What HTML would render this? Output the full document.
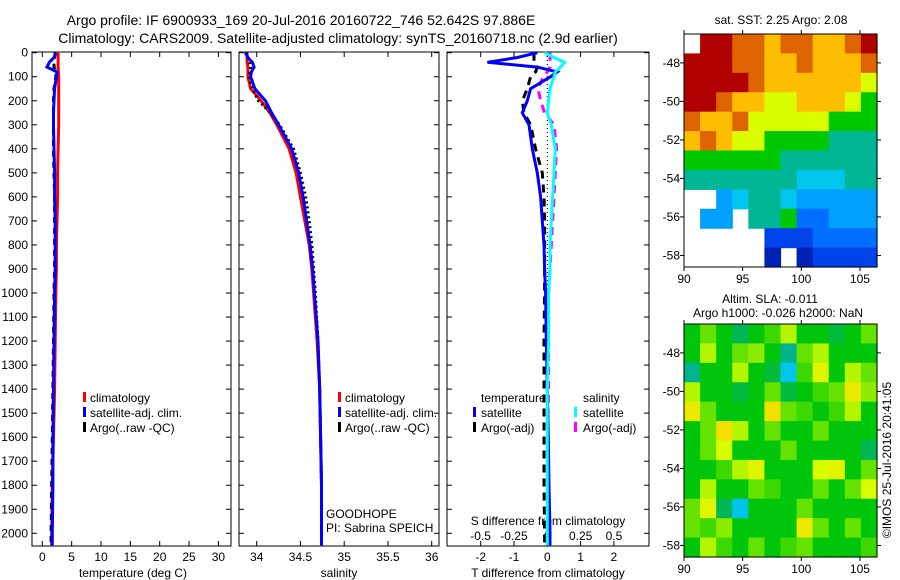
<!DOCTYPE html>
<html><head><meta charset="utf-8"><style>
body{margin:0;background:#fff}
svg{display:block;font-family:"Liberation Sans",sans-serif;font-size:12px}
</style></head><body>
<svg id="c" width="900" height="580" viewBox="0 0 900 580">
<rect width="900" height="580" fill="#fff"/>
<text x="301" y="25" text-anchor="middle" font-size="14">Argo profile: IF 6900933_169 20-Jul-2016 20160722_746 52.642S 97.886E</text>
<text x="338" y="43" text-anchor="middle" font-size="14">Climatology: CARS2009. Satellite-adjusted climatology: synTS_20160718.nc (2.9d earlier)</text>
<g id="g"></g>
</svg>
<script>
const depths=[0,20,40,60,80,100,150,200,250,300,400,500,600,700,800,900,1000,1200,1400,1600,1800,2000,2050];
const tClim=[2.7,2.7,2.7,2.7,2.75,2.8,2.8,2.8,2.8,2.8,2.7,2.6,2.6,2.5,2.4,2.4,2.3,2.2,2.1,1.9,1.7,1.6,1.6];
const tSat=[2.3,2.0,1.2,0.8,2.5,2.4,2.1,2.0,1.9,1.9,2.0,2.1,2.1,2.2,2.2,2.2,2.1,2.0,1.9,1.8,1.8,1.7,1.7];
const tArgo=[2.2,2.1,2.0,2.0,2.4,2.3,2.0,1.9,1.9,1.9,1.9,2.0,2.1,2.1,2.1,2.1,2.0,1.9,1.8,1.7,1.6,1.5,1.5];
const sClim=[33.89,33.89,33.89,33.9,33.9,33.9,33.93,34.05,34.15,34.23,34.37,34.45,34.5,34.55,34.6,34.63,34.65,34.69,34.72,34.73,34.74,34.74,34.74];
const sSat=[33.87,33.9,33.95,33.97,33.94,33.93,33.98,34.1,34.17,34.25,34.4,34.48,34.53,34.57,34.61,34.64,34.66,34.7,34.72,34.73,34.74,34.74,34.74];
const sArgo=[33.88,33.9,33.92,33.93,33.92,33.91,33.95,34.02,34.16,34.26,34.42,34.5,34.56,34.6,34.63,34.65,34.67,34.7,34.72,34.73,34.74,34.74,34.74];
const dTSat=[-0.3,-0.9,-1.8,-0.3,0.3,0.1,-0.5,-0.6,-0.75,-0.55,-0.45,-0.3,-0.2,-0.15,-0.1,-0.08,-0.05,-0.03,0.0,0.03,0.05,0.08,0.08];
const dTArgo=[-0.4,-0.4,-0.4,-0.3,-0.35,-0.5,-0.6,-0.75,-0.7,-0.5,-0.35,-0.15,-0.1,-0.08,-0.08,-0.08,-0.08,-0.1,-0.1,-0.1,-0.1,-0.08,-0.08];
const dSSat=[-0.02,0.05,0.13,0.1,0.06,0.05,0.02,0.01,0.0,0.03,0.06,0.05,0.04,0.03,0.02,0.02,0.01,0.01,0.0,0.0,0.0,0.0,0.0];
const dSArgo=[0.02,0.02,0.02,0.02,0.0,-0.03,-0.07,-0.05,-0.02,0.05,0.07,0.06,0.05,0.04,0.03,0.02,0.01,0.01,0.01,0.0,0.0,0.0,0.0];
const yTicks=[0,100,200,300,400,500,600,700,800,900,1000,1100,1200,1300,1400,1500,1600,1700,1800,1900,2000];
const tTicks=[0,5,10,15,20,25,30];
const sTicks=[34,34.5,35,35.5,36];
const dtTicks=[-2,-1,0,1,2];
const dsTicks=["-0.5","-0.25","0","0.25","0.5"];
const sstGrid=[
[null,9,9,8,8,7,8,8,7,7,8,9],
[9,9,9,8,8,7,7,8,7,7,7,8],
[9,9,9,9,8,7,7,7,7,7,7,6],
[9,9,8,7,7,6,6,7,7,7,6,5],
[8,7,7,8,6,6,6,6,6,5,5,5],
[7,8,7,6,6,5,5,5,5,4,4,4],
[5,5,5,5,5,5,4,4,4,4,4,4],
[4,4,4,4,4,4,4,3.5,3.5,3.5,4,4],
[null,null,3,3.5,4,4,3.5,3,3,3,3,3],
[null,3,3,null,4,4,5,2.5,2.5,3,3,3],
[null,null,null,null,null,2,2,2,2.5,2.5,2.5,2.5],
[null,null,null,null,null,1.5,null,1.5,2,2,2,2]];
const slaGrid=[
[0,0.3,0,-0.3,0,0.2,0.5,0,0,-0.2,0,0.3],
[0,0.5,0,0.3,0.4,0,-0.5,0.3,0.5,0,0,0],
[-0.5,0,0,0.5,0,-0.2,-0.8,0.2,0.7,0,0.5,0.3],
[0.5,0,0,-0.2,0,0.3,-0.2,0,0.2,0.3,0.8,0.4],
[0.8,0.3,0,0,0,0.9,0.3,0.2,0,0.2,0.5,0],
[0,0.3,0.9,0.5,0,0.3,0,0,0.3,0,0,0],
[0,0.3,0.6,0,0,0,0.3,0,0,0,0,-0.3],
[0,0,0.2,0.5,0.7,0,0,0,0.6,0.7,0,0.3],
[0,0.5,0,0,0.3,0.2,0,0,0.3,0,0.3,0.6],
[0.3,0.7,-0.3,-0.8,0,0,0,0.3,0,0,0,0],
[0.3,0.2,0.4,0,0,0,0,0.8,0.3,0,0.3,0],
[0,0.5,0.2,0,0.3,0,0.2,0.3,0,0,0,0.2]];
const lonTicks=[90,95,100,105];
const latTicks=[-48,-50,-52,-54,-56,-58];

const NS='http://www.w3.org/2000/svg';
const G=document.getElementById('g');
function mk(tag,at,parent){const e=document.createElementNS(NS,tag);for(const k in at)e.setAttribute(k,at[k]);(parent||G).appendChild(e);return e;}
function txt(x,y,s,anchor,parent){const e=mk('text',{x:x,y:y,'text-anchor':anchor||'start'},parent);e.textContent=s;return e;}
const yD=d=>52.7+d*0.2403;
const xT=v=>42.3+v*5.87;
const xS=v=>256.7+(v-34)*87.5;
const xDT=v=>547.3+v*33.3;
const xDS=v=>547.3+v*133.3;
const TOP=52,BOT=546;

function frame(x0,x1,name){
  const r=mk('rect',{x:x0,y:TOP,width:x1-x0,height:BOT-TOP,fill:'none',stroke:'#000','stroke-width':1});
  
  
  yTicks.forEach(d=>{mk('line',{x1:x0,x2:x0+5,y1:yD(d),y2:yD(d),stroke:'#000'});mk('line',{x1:x1,x2:x1-5,y1:yD(d),y2:yD(d),stroke:'#000'});});
}
frame(32,231,'temperature-panel');
frame(239,439,'salinity-panel');
frame(447,649,'difference-panel');
yTicks.forEach(d=>{const t=txt(28,yD(d)+4,String(d),'end');});
tTicks.forEach(v=>{mk('line',{x1:xT(v),x2:xT(v),y1:BOT,y2:BOT-5,stroke:'#000'});mk('line',{x1:xT(v),x2:xT(v),y1:TOP,y2:TOP+5,stroke:'#000'});txt(xT(v),561,String(v),'middle');});
sTicks.forEach(v=>{mk('line',{x1:xS(v),x2:xS(v),y1:BOT,y2:BOT-5,stroke:'#000'});mk('line',{x1:xS(v),x2:xS(v),y1:TOP,y2:TOP+5,stroke:'#000'});txt(xS(v),561,String(v),'middle');});
dtTicks.forEach(v=>{mk('line',{x1:xDT(v),x2:xDT(v),y1:BOT,y2:BOT-5,stroke:'#000'});mk('line',{x1:xDT(v),x2:xDT(v),y1:TOP,y2:TOP+5,stroke:'#000'});txt(xDT(v),561,String(v),'middle');});
dsTicks.forEach(v=>{txt(xDS(parseFloat(v)),540,v,'middle');});
txt(133,577,'temperature (deg C)','middle');
txt(339,577,'salinity','middle');
txt(548,577,'T difference from climatology','middle');
txt(548,525,'S difference from climatology','middle');

function line(xs,xf,color,dash,name,w){
  const pts=depths.map((d,i)=>xf(xs[i]).toFixed(1)+','+yD(d).toFixed(1)).join(' ');
  const p=mk('polyline',{points:pts,fill:'none',stroke:color,'stroke-width':w||3});
  if(dash)p.setAttribute('stroke-dasharray',dash);
  
  
}
line(tClim,xT,'#f00',null,'temp-climatology-line');
line(tArgo,xT,'#000','6,5','temp-argo-line');
line(tSat,xT,'#00f',null,'temp-satellite-line');
line(sClim,xS,'#f00',null,'sal-climatology-line');
line(sArgo,xS,'#000','2,3','sal-argo-line');
line(sSat,xS,'#00f',null,'sal-satellite-line');
mk('line',{x1:xDT(0),x2:xDT(0),y1:TOP,y2:BOT,stroke:'#000','stroke-dasharray':'1,3'});
line(dTArgo,xDT,'#000','8,6','dT-argo-line');
line(dSArgo,xDS,'#f0f','8,6','dS-argo-line');
line(dTSat,xDT,'#00f',null,'dT-satellite-line');
line(dSSat,xDS,'#0ff',null,'dS-satellite-line');

function legend(x,y,items,name){
  const g=mk('g',{});
  
  
  items.forEach((it,i)=>{ if(it[0])mk('rect',{x:x,y:y+i*15-10,width:3,height:10,fill:it[0]},g); txt(x+it[2],y+i*15,it[1],'start',g);});
}
legend(83,402,[['#f00','climatology',7],['#00f','satellite-adj. clim.',7],['#000','Argo(..raw -QC)',7]],'temp-legend');
legend(338,402,[['#f00','climatology',7],['#00f','satellite-adj. clim.',7],['#000','Argo(..raw -QC)',7]],'sal-legend');
legend(473,402,[[null,'temperature',8],['#00f','satellite',8],['#000','Argo(-adj)',8]],'dT-legend');
legend(574,402,[[null,'salinity',9],['#0ff','satellite',9],['#f0f','Argo(-adj)',9]],'dS-legend');
txt(326,518,'GOODHOPE');
txt(326,532,'PI: Sabrina SPEICH');

const stops=[[0,[0,0,128]],[0.15,[0,80,255]],[0.3,[0,200,255]],[0.4,[0,176,112]],[0.5,[0,200,0]],[0.62,[216,255,0]],[0.72,[255,208,0]],[0.82,[255,144,0]],[0.9,[208,80,0]],[1,[176,0,0]]];
function cmap(t){t=Math.max(0,Math.min(1,t));for(let i=1;i<stops.length;i++){if(t<=stops[i][0]){const a=stops[i-1],b=stops[i],f=(t-a[0])/(b[0]-a[0]);return 'rgb('+a[1].map((c,k)=>Math.round(c+(b[1][k]-c)*f)).join(',')+')';}}return 'rgb(176,0,0)';}
function map(y0,y1,grid,tf,name){
  const x0=684,x1=877;
  const lonX=l=>684+(l-90)*11.73;
  const g=mk('g',{});
  
  
  const rows=grid.length,cols=grid[0].length,cw=(x1-x0)/cols,ch=(y1-y0)/rows;
  grid.forEach((row,r)=>row.forEach((v,c)=>{ if(v===null)return; mk('rect',{x:(x0+c*cw).toFixed(2),y:(y0+r*ch).toFixed(2),width:(cw+0.6).toFixed(2),height:(ch+0.6).toFixed(2),fill:cmap(tf(v))},g);}));
  mk('rect',{x:x0,y:y0,width:x1-x0,height:y1-y0,fill:'none',stroke:'#000'},g);
  const sc=(y1-y0)/12.1;
  const ly=l=>y0+(-46.5-l)*sc;
  latTicks.forEach(l=>{mk('line',{x1:x0-4,x2:x0,y1:ly(l),y2:ly(l),stroke:'#000'},g);mk('line',{x1:x1,x2:x1+4,y1:ly(l),y2:ly(l),stroke:'#000'},g);txt(x0-4,ly(l)+4,String(l),'end',g);});
  lonTicks.forEach(l=>{mk('line',{x1:lonX(l),x2:lonX(l),y1:y1,y2:y1+4,stroke:'#000'},g);mk('line',{x1:lonX(l),x2:lonX(l),y1:y0,y2:y0-4,stroke:'#000'},g);txt(lonX(l),y1+16,String(l),'middle',g);});
}
map(34,267,sstGrid,v=>(v-1)/8,'sst-map');
map(324,557,slaGrid,v=>0.49+0.22*v,'sla-map');
txt(781,24,'sat. SST: 2.25 Argo: 2.08','middle');
txt(770,303,'Altim. SLA: -0.011','middle');
txt(778,317,'Argo h1000: -0.026 h2000: NaN','middle');
const cr=txt(0,0,'©IMOS 25-Jul-2016 20:41:05','middle');
cr.setAttribute('transform','translate(891,460) rotate(-90)');


</script>
</body></html>
